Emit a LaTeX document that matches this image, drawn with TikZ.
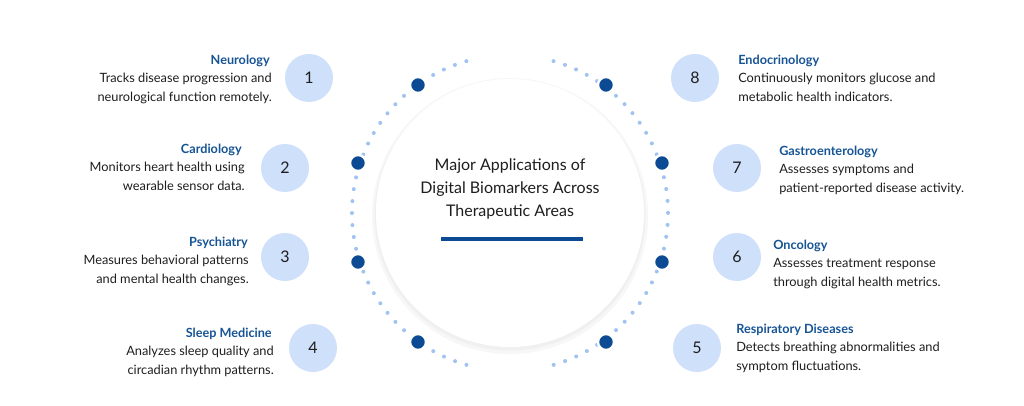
\documentclass[tikz,border=0pt]{standalone}
\usepackage{fontspec}
\setmainfont{Lato}
\usetikzlibrary{positioning}
\definecolor{numfill}{RGB}{207,224,251}
\definecolor{titleblue}{RGB}{22,84,150}
\definecolor{dotblue}{RGB}{12,74,148}
\definecolor{ringblue}{RGB}{160,195,242}
\definecolor{bodytext}{RGB}{30,30,30}
\tikzset{
  num/.style={circle,fill=numfill,minimum size=36pt,inner sep=0pt,font=\large,text=bodytext},
  pin/.style={circle,fill=dotblue,draw=white,line width=1.8pt,minimum size=12pt,inner sep=0pt},
  ttl/.style={font=\fontsize{9.5}{11}\selectfont\bfseries,text=titleblue,inner sep=0.75pt},
  desc/.style={font=\fontsize{9.6}{14}\selectfont,text=bodytext,inner sep=0.75pt},
}
\begin{document}
\begin{tikzpicture}[x=0.75pt,y=0.75pt,yscale=-1,xscale=1]
\useasboundingbox (0,0) rectangle (1024,406);
\fill[white] (0,0) rectangle (1024,406);

% dotted ring
\draw[ringblue,line width=3pt,dash pattern=on 0pt off 9pt,line cap=round] (510,213) ++(106:158) arc (106:254:158);
\draw[ringblue,line width=3pt,dash pattern=on 0pt off 9pt,line cap=round] (510,213) ++(-74:158) arc (-74:74:158);

% centre circle
\fill[black!3] (510,216) circle (138);
\fill[black!6] (510,215) circle (135.5);
\fill[white] (510,213) circle (134);
\node[font=\fontsize{12}{17.5}\selectfont,align=center,text=bodytext] (title) at (510,189) {Major Applications of\\Digital Biomarkers Across\\Therapeutic Areas};
\fill[dotblue] (441,237) rectangle (583,241);

% pins on the ring
\foreach \nm/\px/\py in {p1/418/85,p2/358/163,p3/358/262,p4/418/342,p5/606/342,p6/662/262,p7/662/163,p8/606/85}{
  \fill[black!12] (\px,\py) circle (8.5);
  \node[pin] (\nm) at (\px,\py) {};
}

% numbers
\node[num] (n1) at (309,78) {1};
\node[num] (n2) at (285,168) {2};
\node[num] (n3) at (285,257) {3};
\node[num] (n4) at (313,348) {4};
\node[num] (n5) at (697,348) {5};
\node[num] (n6) at (737,257) {6};
\node[num] (n7) at (737,168) {7};
\node[num] (n8) at (695,78) {8};

% left side
\node[ttl,anchor=south east] (t1) at (271,68) {Neurology};
\node[desc,anchor=north east,align=right] (d1) at (273,72) {Tracks disease progression and\\neurological function remotely.};
\node[ttl,anchor=south east] (t2) at (243,157) {Cardiology};
\node[desc,anchor=north east,align=right] (d2) at (246,161) {Monitors heart health using\\wearable sensor data.};
\node[ttl,anchor=south east] (t3) at (249,250) {Psychiatry};
\node[desc,anchor=north east,align=right] (d3) at (250,254) {Measures behavioral patterns\\and mental health changes.};
\node[ttl,anchor=south east] (t4) at (273,341) {Sleep Medicine};
\node[desc,anchor=north east,align=right] (d4) at (275,345) {Analyzes sleep quality and\\circadian rhythm patterns.};

% right side
\node[ttl,anchor=south west] (t8) at (737,68) {Endocrinology};
\node[desc,anchor=north west,align=left] (d8) at (737,72) {Continuously monitors glucose and\\metabolic health indicators.};
\node[ttl,anchor=south west] (t7) at (778,159) {Gastroenterology};
\node[desc,anchor=north west,align=left] (d7) at (778,163) {Assesses symptoms and\\patient-reported disease activity.};
\node[ttl,anchor=south west] (t6) at (772,253) {Oncology};
\node[desc,anchor=north west,align=left] (d6) at (772,257) {Assesses treatment response\\through digital health metrics.};
\node[ttl,anchor=south west] (t5) at (735,337) {Respiratory Diseases};
\node[desc,anchor=north west,align=left] (d5) at (735,341) {Detects breathing abnormalities and\\symptom fluctuations.};
\end{tikzpicture}
\end{document}
